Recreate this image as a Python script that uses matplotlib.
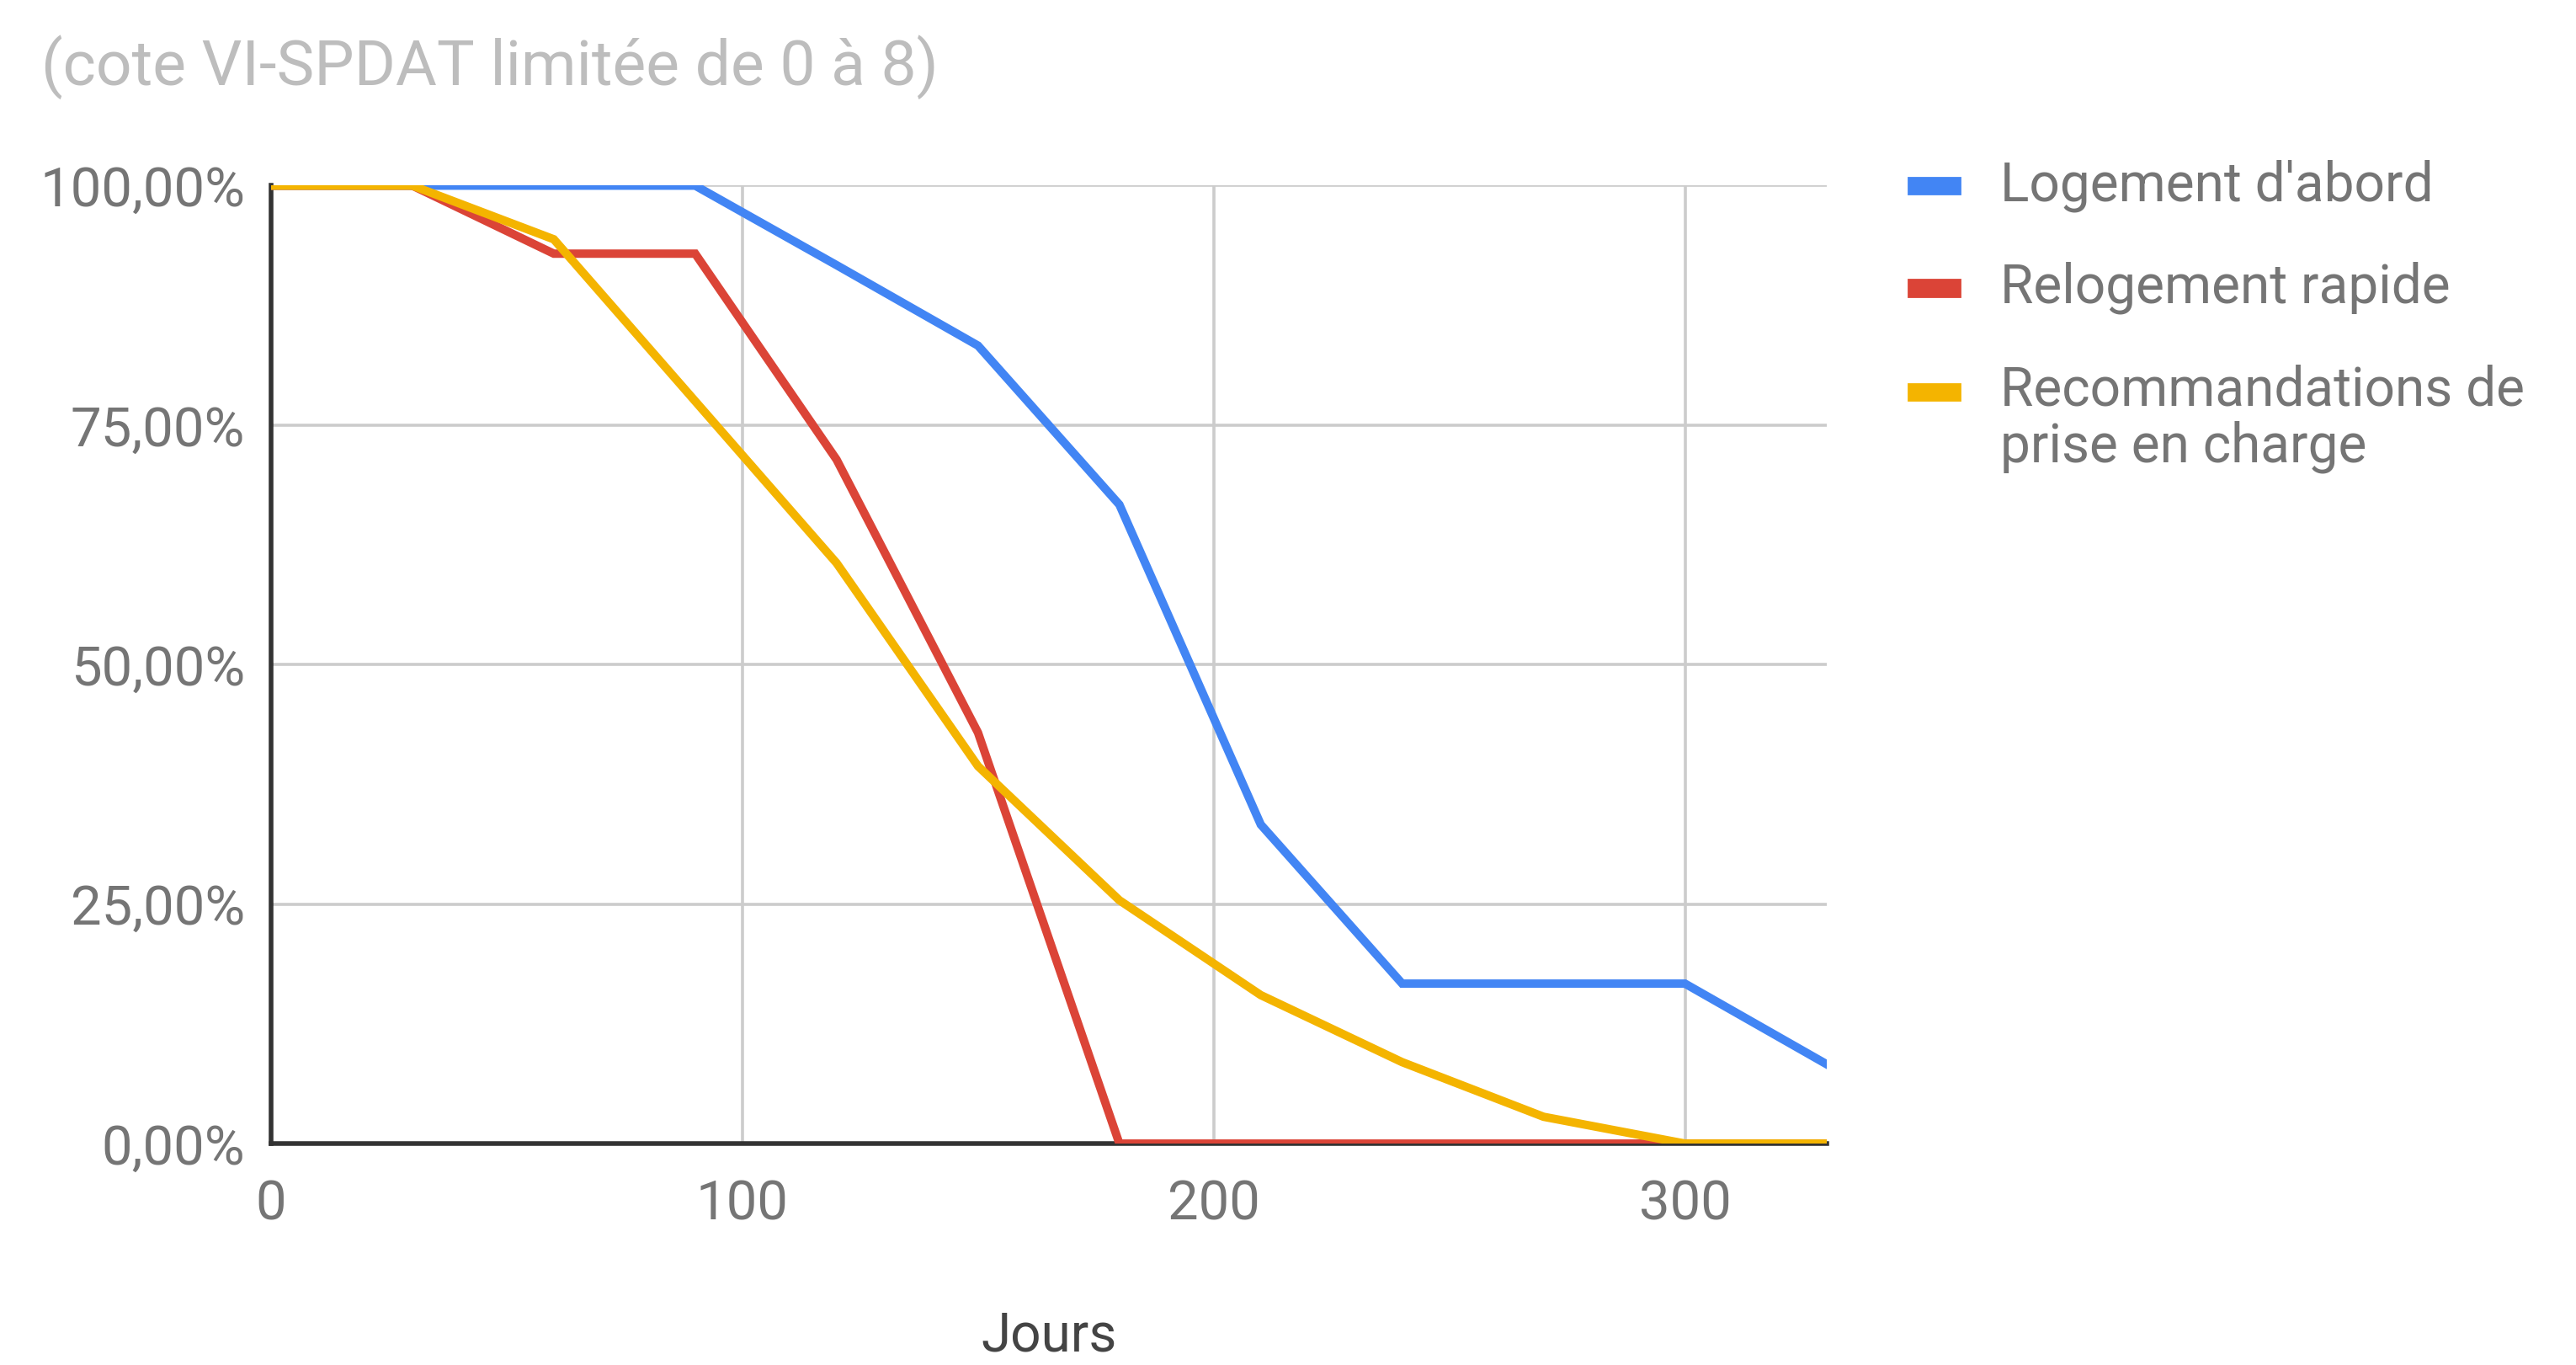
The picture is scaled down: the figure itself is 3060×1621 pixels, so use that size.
import matplotlib
matplotlib.use("Agg")
import matplotlib.pyplot as plt
from matplotlib.patches import Rectangle
from matplotlib.ticker import FuncFormatter

plt.rcParams['font.family'] = ['Roboto', 'DejaVu Sans']

# jours depuis l'entrée
jours = [0, 30, 60, 90, 120, 150, 180, 210, 240, 270, 300, 330]

# part restante (%) par programme
logement_abord = [100, 100, 100, 100, 91.7, 83.3, 66.7, 33.3, 16.7, 16.7, 16.7, 8.3]
relogement_rapide = [100, 100, 92.9, 92.9, 71.4, 42.9, 0, 0, 0, 0, 0, 0]
recommandations = [100, 100, 94.4, 77.5, 60.6, 39.4, 25.4, 15.5, 8.5, 2.8, 0, 0]

series_names = ["Logement d'abord", "Relogement rapide",
                "Recommandations de\nprise en charge"]
series_values = [logement_abord, relogement_rapide, recommandations]
colors = ["#4285F4", "#DB4437", "#F4B400"]

x_ticks = [0, 100, 200, 300]
y_ticks = [0, 25, 50, 75, 100]

fig = plt.figure(figsize=(15.3, 8.105), dpi=200)
ax = fig.add_axes([0.1052, 0.1622, 0.709 - 0.1052, 0.864 - 0.1622])

for vals, c, z in zip(series_values, colors, [3, 4, 5]):
    ax.plot(jours, vals, color=c, lw=3.6, zorder=z, solid_joinstyle='miter')

ax.set_xlim(0, 330)
ax.set_ylim(0, 100)
ax.set_xticks(x_ticks)
ax.set_yticks(y_ticks)
ax.yaxis.set_major_formatter(FuncFormatter(lambda v, p: f"{v:.2f}".replace('.', ',') + "%"))
ax.tick_params(length=0, labelsize=23.5, colors='#757575', pad=11)
ax.tick_params(axis='x', pad=15)
ax.grid(True, color='#CCCCCC', lw=1.3, zorder=0)
ax.set_axisbelow(True)
for s in ['top', 'right']:
    ax.spines[s].set_visible(False)
for s in ['left', 'bottom']:
    ax.spines[s].set_color('#333333')
    ax.spines[s].set_linewidth(2.0)
    ax.spines[s].set_zorder(2)

# titre de l'axe x placé à la main
fig.text(0.4072, 0.021, "Jours", fontsize=23, color='#444444',
         ha='center', va='center')

fig.text(0.016, 0.951, "(cote VI-SPDAT limitée de 0 à 8)", fontsize=27,
         color='#BDBDBD', ha='left', va='center')

# légende
leg_y = [0.864, 0.789, 0.713]
for name, c, y in zip(series_names, colors, leg_y):
    fig.patches.append(Rectangle((0.741, y - 0.006), 0.0197, 0.012, color=c,
                                 transform=fig.transFigure))
    if '\n' in name:
        fig.text(0.7765, y + 0.020, name, fontsize=23, color='#757575',
                 ha='left', va='top', linespacing=1.1)
    else:
        fig.text(0.7765, y, name, fontsize=23, color='#757575',
                 ha='left', va='center')

fig.savefig("out.png", dpi=200)
